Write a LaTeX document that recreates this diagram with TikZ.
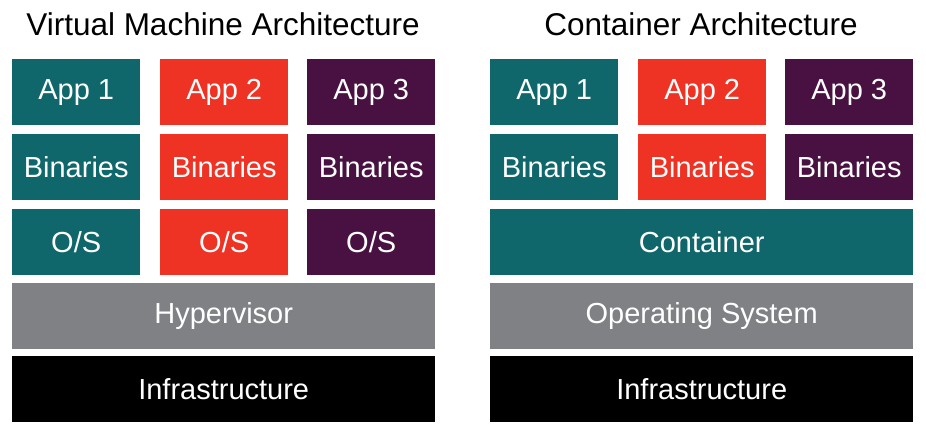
\documentclass[tikz,border=0pt]{standalone}
\usepackage{fontspec}
\setmainfont{Liberation Sans}
\usepackage{xcolor}
\usepackage{tikz}
\usetikzlibrary{positioning}
\definecolor{vmteal}{RGB}{16,103,107}
\definecolor{vmred}{RGB}{238,51,36}
\definecolor{vmpurple}{RGB}{73,17,66}
\definecolor{vmgray}{RGB}{128,129,133}
\tikzset{
  layer/.style={
    rectangle,
    fill=#1,
    draw=none,
    text=white,
    inner sep=0pt,
    anchor=north west,
    minimum height=66pt,
    font=\fontsize{29}{34}\selectfont},
  slot/.style={layer=#1, minimum width=128pt},
  base/.style={layer=#1, minimum width=423pt},
  title/.style={
    text=black,
    inner sep=0pt,
    font=\fontsize{31.5}{36}\selectfont}
}

\begin{document}
\begin{tikzpicture}[x=1pt,y=-1pt]
    \useasboundingbox (0,0) rectangle (926,433);

    % virtual machine side
    \node[title] (vmtitle) at (223,24) {Virtual Machine Architecture};

    \node[slot=vmteal]   (vmapp1) at (12,59)  {App 1};
    \node[slot=vmred]    (vmapp2) at (160,59) {App 2};
    \node[slot=vmpurple] (vmapp3) at (307,59) {App 3};

    \node[slot=vmteal]   (vmbin1) at (12,134)  {Binaries};
    \node[slot=vmred]    (vmbin2) at (160,134) {Binaries};
    \node[slot=vmpurple] (vmbin3) at (307,134) {Binaries};

    \node[slot=vmteal]   (vmos1) at (12,209)  {O/S};
    \node[slot=vmred]    (vmos2) at (160,209) {O/S};
    \node[slot=vmpurple] (vmos3) at (307,209) {O/S};

    \node[base=vmgray] (hyper)   at (12,283) {Hypervisor};
    \node[base=black]  (vminfra) at (12,356) {Infrastructure};

    % container side
    \node[title] (cttitle) at (701,24) {Container Architecture};

    \node[slot=vmteal]   (ctapp1) at (490,59) {App 1};
    \node[slot=vmred]    (ctapp2) at (638,59) {App 2};
    \node[slot=vmpurple] (ctapp3) at (785,59) {App 3};

    \node[slot=vmteal]   (ctbin1) at (490,134) {Binaries};
    \node[slot=vmred]    (ctbin2) at (638,134) {Binaries};
    \node[slot=vmpurple] (ctbin3) at (785,134) {Binaries};

    \node[base=vmteal] (container) at (490,209) {Container};
    \node[base=vmgray] (hostos)    at (490,283) {Operating System};
    \node[base=black]  (ctinfra)   at (490,356) {Infrastructure};
\end{tikzpicture}
\end{document}
